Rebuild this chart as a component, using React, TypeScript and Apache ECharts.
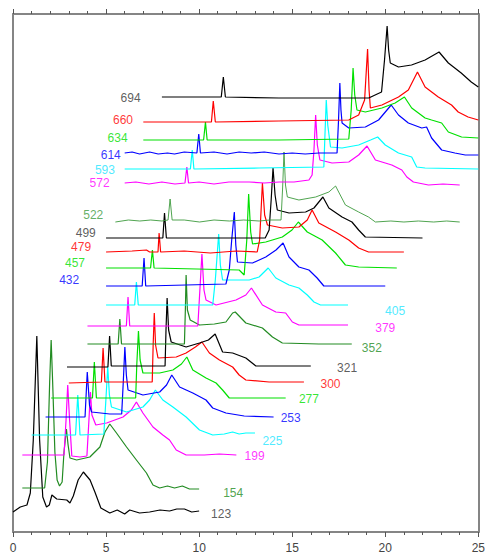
import React, { useEffect, useRef } from "react";
import * as echarts from "echarts";

// Temperature labels of each spectrum (bottom to top)
const temps = ["123", "154", "199", "225", "253", "277", "300", "321", "352", "379", "405",
  "432", "457", "479", "499", "522", "572", "593", "614", "634", "660", "694"];

const colors = ["#000000", "#228b22", "#ff00ff", "#00ffff", "#0000ff", "#00e000", "#ff0000",
  "#000000", "#228b22", "#ff00ff", "#00ffff", "#0000ff", "#00e000", "#ff0000",
  "#000000", "#3c9a3c", "#ff00ff", "#00ffff", "#0000ff", "#00e000", "#ff0000", "#000000"];

// Offset spectra: [x, offset intensity]
const T123 = [[0,20],[0.39,25],[0.75,27],[0.93,39],[1.09,92],[1.28,196],[1.43,92],[1.6,35],[1.8,25],[1.95,27],[2.09,37],[2.35,33],[2.89,32],[3.06,29],[3.24,36],[3.5,52],[3.78,60],[4.14,52],[4.4,40],[4.72,24],[5.2,19],[5.6,22],[6.0,18],[6.27,22],[6.8,19],[7.34,20],[7.9,22],[8.41,21],[8.8,23],[9.21,23],[9.6,20],[10,21]];
const T154 = [[0.5,44],[1.7,44],[1.85,70],[1.97,150],[2.05,192],[2.13,150],[2.25,80],[2.37,52],[2.5,46],[2.64,50],[2.74,80],[2.87,103],[2.96,87],[3.06,74],[3.42,72],[4.13,75],[4.67,85],[4.94,100],[5.2,108],[5.56,99],[6.1,85],[6.63,72],[7.17,59],[7.52,47],[7.88,44],[8.3,46],[8.68,44],[9.1,46],[9.48,43],[10,43]];
const T199 = [[0.5,77],[2.74,77],[2.85,112],[2.94,147],[3.04,112],[3.16,76],[3.6,75],[3.97,76],[4.08,112],[4.16,140],[4.24,117],[4.45,107],[5.03,109],[5.91,115],[6.36,122],[6.63,130],[6.98,119],[7.52,105],[8.05,97],[8.41,92],[8.77,82],[9.3,77],[10.28,77],[11.09,78],[12,77]];
const T225 = [[1,97],[3.36,97],[3.48,137],[3.6,97],[4.88,98],[4.99,132],[5.09,165],[5.18,137],[5.29,125],[6.1,120],[6.98,125],[7.34,132],[7.65,142],[8.05,132],[8.59,125],[9.3,115],[10.02,102],[10.73,97],[11.35,98],[11.8,100],[12.15,98],[12.51,99],[13,99]];
const T253 = [[1.75,115],[3.87,115],[3.99,160],[4.11,127],[4.22,120],[5.2,118],[5.84,118],[5.93,152],[6.01,185],[6.09,157],[6.18,142],[6.98,137],[7.88,140],[8.25,147],[8.53,157],[8.95,145],[9.66,139],[10.37,132],[10.73,124],[11.44,119],[12.42,116],[14,115]];
const T277 = [[2.05,134],[4.27,134],[4.37,170],[4.48,134],[6.59,134],[6.65,167],[6.74,201],[6.83,172],[6.98,159],[7.88,159],[8.59,162],[9.05,168],[9.34,175],[9.66,162],[10.37,154],[10.91,149],[11.26,142],[11.62,134],[12.69,134],[14.65,134]];
const T300 = [[3,149],[4.75,150],[4.84,184],[4.94,150],[7.48,150],[7.53,187],[7.59,219],[7.66,187],[7.79,174],[8.77,175],[9.3,179],[9.8,185],[10.15,190],[10.55,179],[11.09,172],[11.8,165],[12.15,157],[12.51,152],[13.76,150],[15.63,150]];
const T321 = [[2.9,165],[5.1,165],[5.19,196],[5.28,166],[8.17,166],[8.22,202],[8.28,234],[8.36,202],[8.5,190],[9.3,185],[10.02,189],[10.5,192],[10.86,198],[11.26,180],[11.8,179],[12.51,174],[13.05,166],[14.29,166],[16,166]];
const T352 = [[4,188],[5.65,188],[5.74,213],[5.83,188],[9.21,188],[9.26,222],[9.3,257],[9.37,222],[9.52,212],[10.02,207],[10.82,208],[11.44,210],[11.8,219],[11.94,220],[12.51,209],[13.4,204],[13.94,195],[14.47,189],[16.43,188],[18.2,188]];
const T379 = [[4,206],[6.09,206],[6.18,235],[6.27,206],[9.93,206],[10.04,242],[10.15,278],[10.26,242],[10.37,232],[10.91,227],[11.98,232],[12.51,237],[12.81,244],[13.4,227],[14.12,220],[14.65,219],[15.01,210],[15.36,207],[18,207]];
const T405 = [[5,227],[6.54,227],[6.63,250],[6.73,227],[10.73,227],[10.87,252],[11.05,298],[11.14,267],[11.26,252],[11.8,252],[12.69,252],[13.22,255],[13.71,264],[14.12,254],[14.83,247],[15.36,244],[15.81,237],[16.17,230],[16.52,227],[18,227]];
const T432 = [[5,246],[6.94,246],[7.04,274],[7.13,246],[11.44,248],[11.62,262],[11.75,292],[11.89,320],[11.97,287],[12.06,270],[12.87,269],[13.58,275],[14.13,282],[14.51,289],[14.83,275],[15.36,265],[15.9,262],[16.34,254],[16.7,246],[20,246]];
const T457 = [[5,264],[7.39,264],[7.49,282],[7.58,264],[12.15,262],[12.42,257],[12.56,292],[12.66,338],[12.77,300],[12.87,288],[13.58,290],[14.47,295],[14.99,302],[15.33,310],[15.81,300],[16.61,292],[17.33,279],[17.86,267],[18.57,265],[20.62,264]];
const T479 = [[5,280],[6.4,281],[7.17,282],[7.34,280],[7.79,280],[7.85,299],[7.93,280],[9.2,281],[10.6,279],[12,281],[13.12,280],[13.25,292],[13.4,349],[13.52,317],[13.67,307],[14.47,304],[15.36,305],[15.81,312],[16.07,322],[16.43,309],[17.33,300],[18.04,292],[18.57,284],[19.1,280],[21,280]];
const T499 = [[5,294],[8.05,294],[8.14,319],[8.24,294],[13.55,294],[13.76,302],[13.87,332],[13.97,364],[14.08,337],[14.2,322],[14.83,319],[15.72,320],[16.17,324],[16.65,335],[16.97,324],[17.68,315],[18.21,310],[18.57,302],[18.93,295],[22,294]];
const T522 = [[5.5,310],[6.2,312],[6.81,311],[7.4,312],[8.0,311],[8.33,312],[8.44,333],[8.55,312],[9.2,312],[10.02,310],[10.8,312],[11.62,311],[12.4,312],[13.22,311],[13.8,312],[14.4,312],[14.48,342],[14.56,380],[14.64,347],[14.74,335],[15.36,332],[16.26,335],[16.97,340],[17.33,346],[17.86,327],[18.57,320],[19.1,315],[19.47,310],[20.3,311],[21.0,310],[21.78,311],[22.6,310],[23.3,311],[24,310]];
const T572 = [[6,349],[6.6,350],[7.3,348],[8.0,350],[8.7,348],[9.24,349],[9.34,365],[9.43,349],[10,350],[10.8,348],[11.6,350],[12.69,350],[13.5,349],[14.3,350],[15.1,350],[15.9,352],[16.07,357],[16.17,382],[16.26,417],[16.35,387],[16.49,372],[17.14,369],[18.04,370],[18.57,377],[19.02,386],[19.47,372],[20.35,367],[20.89,362],[21.16,355],[21.51,350],[22.32,347],[23.1,348],[24,347]];
const T593 = [[6,363],[9.53,363],[9.63,382],[9.72,363],[13.22,364],[16.7,365],[16.76,397],[16.83,432],[16.91,407],[17.06,385],[17.68,384],[18.57,387],[19.21,392],[19.59,395],[20,387],[20.71,379],[21.42,375],[21.69,365],[22.14,364],[25,363]];
const T614 = [[6,379],[6.4,380],[6.8,378],[7.34,380],[7.8,378],[8.3,379],[8.68,378],[9.2,380],[9.88,379],[9.98,398],[10.07,379],[10.8,380],[11.5,378],[12.15,380],[12.8,379],[13.5,380],[14.29,378],[15,379],[15.7,378],[16.43,379],[17.41,379],[17.49,412],[17.56,449],[17.62,422],[17.68,409],[18.04,404],[18.93,405],[19.64,412],[20.32,427],[20.71,417],[21.24,409],[21.96,404],[22.22,405],[22.49,394],[23.03,382],[23.74,379],[24.3,377],[25,377]];
const T634 = [[7,392],[10.24,392],[10.34,410],[10.43,392],[14.29,392],[18.04,393],[18.17,422],[18.27,464],[18.36,437],[18.48,422],[18.93,420],[19.82,424],[20.53,429],[21.03,435],[21.42,424],[22.14,414],[22.49,412],[23.03,409],[23.39,400],[24.1,395],[25,394]];
const T660 = [[7,410],[10.66,410],[10.76,431],[10.87,410],[14.29,411],[18.04,412],[18.57,417],[18.89,432],[19.05,483],[19.13,442],[19.2,424],[19.82,427],[20.71,435],[21.24,442],[21.73,460],[22.14,445],[22.85,435],[23.56,427],[23.92,420],[24.45,415],[25,412]];
const T694 = [[8,435],[11.19,435],[11.3,455],[11.41,435],[14.29,434],[16.79,434],[19.11,434],[19.8,440],[19.96,472],[20.1,506],[20.18,482],[20.27,469],[20.71,465],[21.41,467],[22.14,472],[22.89,480],[23.39,469],[24.08,459],[24.62,450],[25,445]];

const traces = [T123, T154, T199, T225, T253, T277, T300, T321, T352, T379, T405,
  T432, T457, T479, T499, T522, T572, T593, T614, T634, T660, T694];

// Label anchor positions (centre of the text), in axis units
const labelX = [11.18, 11.83, 12.98, 13.94, 14.92, 15.9, 17.06, 17.95, 19.28, 20.0, 20.53,
  3.02, 3.33, 3.66, 3.91, 4.31, 4.65, 4.94, 5.25, 5.62, 5.91, 6.32];
const labelY = [18, 38.7, 76.3, 91.3, 113.7, 133, 148, 163.7, 183.7, 203.7, 221.3,
  252, 269.3, 285.3, 299.3, 317, 349.3, 362, 377, 393.7, 412, 433.7];

const xTicks = { min: 0, max: 25, interval: 5 };

export default function App() {
  const ref = useRef<HTMLDivElement>(null);
  useEffect(() => {
    if (!ref.current) return;
    const chart = echarts.init(ref.current, null, { renderer: "svg" });
    const axisColor = "#858585";
    const baseX = {
      type: "value",
      min: xTicks.min,
      max: xTicks.max,
      interval: xTicks.interval,
      axisLine: { show: true, onZero: false, lineStyle: { color: axisColor, width: 2 } },
      axisTick: { show: true, length: 5, inside: false, lineStyle: { color: "#555", width: 1 } },
      minorTick: { show: true, splitNumber: 5, length: 3, lineStyle: { color: "#555", width: 1 } },
      splitLine: { show: false },
      minorSplitLine: { show: false },
    };
    const baseY = {
      type: "value",
      min: 0,
      max: 518,
      axisLine: { show: true, onZero: false, lineStyle: { color: axisColor, width: 2 } },
      axisTick: { show: false },
      axisLabel: { show: false },
      splitLine: { show: false },
    };
    const series: any[] = traces.map((d, i) => ({
      type: "line",
      name: temps[i],
      data: d,
      symbol: "none",
      showSymbol: false,
      silent: true,
      lineStyle: { color: colors[i], width: temps[i] === "522" ? 0.9 : 1.2 },
      z: 2,
    }));
    series.push({
      type: "scatter",
      symbolSize: 0,
      silent: true,
      z: 5,
      data: temps.map((t, i) => ({
        value: [labelX[i], labelY[i]],
        label: { color: colors[i] === "#00ffff" ? "#22e5ff" : colors[i] === "#000000" ? "#333" : colors[i] },
      })),
      label: {
        show: true,
        position: "inside",
        fontFamily: "Liberation Sans, Arial, sans-serif",
        fontSize: 12,
        formatter: (p: any) => temps[p.dataIndex],
      },
    });
    chart.setOption({
      animation: false,
      backgroundColor: "#ffffff",
      grid: { left: 13, right: 8, top: 14, bottom: 23, containLabel: false },
      xAxis: [
        {
          ...baseX,
          position: "bottom",
          axisLabel: {
            show: true,
            margin: 10,
            color: "#444",
            fontSize: 12,
            fontFamily: "Liberation Sans, Arial, sans-serif",
          },
        },
        { ...baseX, position: "top", axisLabel: { show: false } },
      ],
      yAxis: [
        { ...baseY, position: "left" },
        { ...baseY, position: "right" },
      ],
      series,
    });
    return () => chart.dispose();
  }, []);
  return (
    <div
      ref={ref}
      style={{ position: "absolute", left: 0, top: 0, width: 488, height: 555, background: "#fff" }}
    />
  );
}
